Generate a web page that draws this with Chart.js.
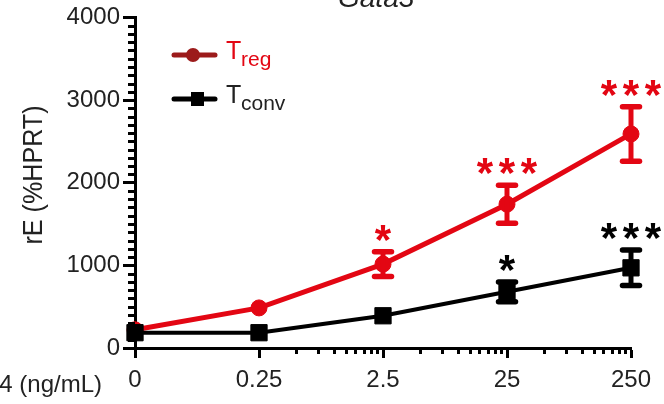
<!DOCTYPE html>
<html>
<head>
<meta charset="utf-8">
<script src="https://cdn.jsdelivr.net/npm/chart.js@4/dist/chart.umd.min.js"></script>
<style>
  html, body { margin: 0; padding: 0; background: #ffffff; }
  #wrap { width: 664px; height: 404px; position: relative; }
</style>
</head>
<body>
<div id="wrap"><canvas id="c" width="664" height="404"></canvas></div>
<script>
// ---- data ----
const categories = ["0", "0.25", "2.5", "25", "250"];
const tregMean  = [220, 485, 1015, 1740, 2590];
const tregErr   = [0, 0, 150, 230, 330];
const tconvMean = [185, 185, 390, 680, 970];
const tconvErr  = [0, 0, 0, 120, 215];
const tregStars  = ["", "", "*", "***", "***"];
const tconvStars = ["", "", "", "*", "***"];
const yTicks = [0, 1000, 2000, 3000, 4000];

const RED = "#e30613";
const DARKRED = "#9c1b1b";
const BLACK = "#000000";
const FONT = "'Liberation Sans', Arial, Helvetica, sans-serif";

const toXY = (arr) => arr.map((v, i) => ({ x: i, y: v }));

const decorPlugin = {
  id: "decor",
  afterDraw(chart) {
    const ctx = chart.ctx;
    const xs = chart.scales.x, ys = chart.scales.y;
    const ca = chart.chartArea;
    ctx.save();
    // minor y ticks
    ctx.strokeStyle = BLACK;
    ctx.lineWidth = 3;
    for (let v = 100; v < 4000; v += 100) {
      if (v % 1000 === 0) continue;
      const py = Math.round(ys.getPixelForValue(v)) + 0.5;
      ctx.beginPath();
      ctx.moveTo(ca.left, py);
      ctx.lineTo(ca.left - 7, py);
      ctx.stroke();
    }
    // minor x ticks (log decades between labelled doses)
    for (let i = 1; i < categories.length - 1; i++) {
      for (let k = 2; k <= 9; k++) {
        const px = Math.round(xs.getPixelForValue(i + Math.log10(k))) + 0.5;
        ctx.beginPath();
        ctx.moveTo(px, ca.bottom);
        ctx.lineTo(px, ca.bottom + 6);
        ctx.stroke();
      }
    }
    // axis titles
    ctx.fillStyle = "#222";
    ctx.font = "27px " + FONT;
    ctx.save();
    ctx.translate(42, 175);
    ctx.rotate(-Math.PI / 2);
    ctx.scale(0.93, 1);
    ctx.textAlign = "center";
    ctx.textBaseline = "alphabetic";
    ctx.fillText("rE (%HPRT)", 0, 0);
    ctx.restore();

    ctx.save();
    ctx.font = "24px " + FONT;
    ctx.textAlign = "right";
    ctx.textBaseline = "alphabetic";
    ctx.fillText("IL-4 (ng/mL)", 102, 392);
    ctx.restore();

    // title
    ctx.font = "italic 28px " + FONT;
    ctx.textAlign = "left";
    ctx.textBaseline = "alphabetic";
    ctx.fillText("Gata3", 338, 7);

    // legend
    const drawLegend = (y, lineColor, marker, textColor, sub) => {
      ctx.strokeStyle = lineColor;
      ctx.fillStyle = lineColor;
      ctx.lineWidth = 5;
      ctx.lineCap = "round";
      ctx.beginPath();
      ctx.moveTo(174, y);
      ctx.lineTo(215, y);
      ctx.stroke();
      ctx.lineCap = "butt";
      if (marker === "circle") {
        ctx.beginPath();
        ctx.arc(193, y, 7, 0, Math.PI * 2);
        ctx.fill();
      } else {
        ctx.fillRect(191, y - 7, 13, 14);
      }
      ctx.fillStyle = textColor;
      ctx.textAlign = "left";
      ctx.font = "25px " + FONT;
      ctx.fillText("T", 226, y + 4);
      ctx.font = "21px " + FONT;
      ctx.fillText(sub, 241, y + 11);
    };
    drawLegend(55, DARKRED, "circle", RED, "reg");
    drawLegend(99, BLACK, "square", "#222", "conv");
    ctx.restore();
  },
  afterDatasetsDraw(chart) {
    const ctx = chart.ctx;
    const xs = chart.scales.x, ys = chart.scales.y;
    ctx.save();
    const series = [
      { mean: tregMean, err: tregErr, stars: tregStars, color: RED },
      { mean: tconvMean, err: tconvErr, stars: tconvStars, color: BLACK }
    ];
    series.forEach(s => {
      ctx.strokeStyle = s.color;
      ctx.fillStyle = s.color;
      s.mean.forEach((m, i) => {
        const px = xs.getPixelForValue(i);
        const e = s.err[i];
        const top = ys.getPixelForValue(m + e);
        const bot = ys.getPixelForValue(m - e);
        if (e > 0) {
          ctx.lineWidth = 5;
          ctx.lineCap = "butt";
          ctx.beginPath();
          ctx.moveTo(px, top);
          ctx.lineTo(px, bot);
          ctx.stroke();
          ctx.lineWidth = 5.5;
          ctx.lineCap = "round";
          [top, bot].forEach(py => {
            ctx.beginPath();
            ctx.moveTo(px - 8.5, py);
            ctx.lineTo(px + 8.5, py);
            ctx.stroke();
          });
        }
        const st = s.stars[i];
        if (st) {
          ctx.font = "bold 42px " + FONT;
          ctx.textAlign = "center";
          ctx.textBaseline = "alphabetic";
          const mt = ctx.measureText("*");
          const cy = top - 19;
          const base = cy + (mt.actualBoundingBoxAscent - mt.actualBoundingBoxDescent) / 2;
          const n = st.length;
          for (let k = 0; k < n; k++) {
            ctx.fillText("*", px + (k - (n - 1) / 2) * 22, base);
          }
        }
      });
    });
    ctx.restore();
  }
};

new Chart(document.getElementById("c"), {
  type: "line",
  data: {
    datasets: [
      {
        label: "Tconv",
        data: toXY(tconvMean),
        borderColor: BLACK,
        backgroundColor: BLACK,
        borderWidth: 4,
        pointStyle: "rect",
        pointRadius: 11.5,
        pointBorderWidth: 1,
        tension: 0,
        clip: false,
        order: 0
      },
      {
        label: "Treg",
        data: toXY(tregMean),
        borderColor: RED,
        backgroundColor: RED,
        borderWidth: 5,
        pointStyle: "circle",
        pointRadius: 8,
        pointBorderWidth: 1,
        tension: 0,
        clip: false,
        order: 1
      }
    ]
  },
  options: {
    responsive: false,
    animation: false,
    devicePixelRatio: 1,
    layout: { padding: { top: 17, right: 33, left: 0, bottom: 0 } },
    plugins: { legend: { display: false }, tooltip: { enabled: false }, title: { display: false } },
    scales: {
      x: {
        type: "linear",
        min: 0,
        max: categories.length - 1,
        offset: false,
        afterFit(scale) { scale.height = 56; },
        afterBuildTicks(scale) {
          scale.ticks = categories.map((c, i) => ({ value: i }));
        },
        ticks: {
          autoSkip: false,
          maxRotation: 0,
          padding: 8,
          color: "#222",
          font: { family: FONT, size: 24 },
          callback: (v) => categories[v] ?? ""
        },
        grid: { display: true, drawOnChartArea: false, tickLength: 10, tickWidth: 3, tickColor: BLACK },
        border: { display: true, color: BLACK, width: 3 }
      },
      y: {
        type: "linear",
        min: 0,
        max: 4000,
        afterFit(scale) { scale.width = 135; },
        afterBuildTicks(scale) {
          scale.ticks = yTicks.map(v => ({ value: v }));
        },
        ticks: {
          autoSkip: false,
          padding: 3,
          color: "#222",
          font: { family: FONT, size: 24 },
          callback: (v) => String(v)
        },
        grid: { display: true, drawOnChartArea: false, tickLength: 12, tickWidth: 3, tickColor: BLACK },
        border: { display: true, color: BLACK, width: 3 }
      }
    }
  },
  plugins: [decorPlugin]
});
</script>
</body>
</html>
